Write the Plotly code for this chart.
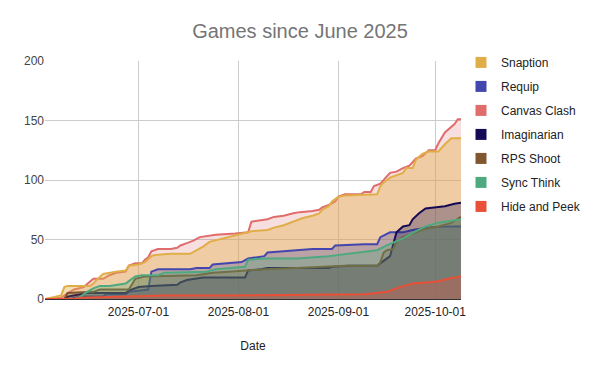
import plotly.graph_objects as go

series_names = ["Snaption", "Requip", "Canvas Clash", "Imaginarian", "RPS Shoot", "Sync Think", "Hide and Peek"]
series_colors = ["#e0ae48", "#4347ad", "#e06c6c", "#150a55", "#80562f", "#4fa97f", "#ea5038"]

snaption_dates = ["06-02","06-05","06-07","06-08","06-09","06-16","06-17","06-18","06-20","06-24","06-27","06-28","07-01","07-03","07-05","07-06","07-11","07-17","07-19","07-21","07-23","07-26","07-29","08-01","08-05","08-10","08-12","08-15","08-18","08-21","08-24","08-26","08-27","08-29","08-30","09-01","09-03","09-13","09-14","09-15","09-17","09-19","09-21","09-22","09-24","09-25","09-27","09-29","10-02","10-04","10-06","10-09"]
snaption_vals = [0,2,3,10,11,11,13,16,21,23,24,28,29,31,36,37,38,38,41,44,48,50,52,54,57,58,60,62,65,68,70,72,75,78,82,86,87,88,95,98,102,104,106,110,110,117,122,124,124,130,135,135]

requip_dates = ["06-02","06-10","06-13","06-20","06-21","06-27","06-28","07-01","07-04","07-05","07-06","07-07","07-09","07-17","07-19","07-23","07-24","07-29","08-02","08-04","08-09","08-10","08-15","08-19","08-24","08-30","08-31","09-09","09-13","09-14","09-17","09-21","09-24","09-29","10-04","10-09"]
requip_vals = [0,0,2,2,4,4,6,7,8,23,24,25,25,25,26,26,29,30,31,34,36,39,40,41,42,42,45,46,46,52,56,56,58,60,61,61]

canvas_dates = ["06-02","06-07","06-09","06-11","06-14","06-17","06-20","06-22","06-24","06-27","06-28","06-30","07-02","07-03","07-04","07-05","07-07","07-11","07-13","07-14","07-16","07-18","07-20","07-23","07-25","07-31","08-04","08-05","08-08","08-10","08-12","08-15","08-18","08-20","08-24","08-26","08-27","08-29","08-31","09-01","09-03","09-08","09-09","09-11","09-12","09-14","09-16","09-17","09-19","09-21","09-23","09-25","09-27","09-29","10-01","10-02","10-04","10-06","10-07","10-08","10-09"]
canvas_vals = [0,1,5,8,10,17,17,20,22,23,28,30,30,33,35,40,42,42,43,45,47,49,52,53,54,55,56,65,66,67,69,70,72,73,74,75,77,79,82,86,88,88,90,90,95,97,103,106,107,110,112,118,120,125,125,131,140,145,147,151,151]

imaginarian_dates = ["06-02","06-08","06-09","06-11","06-15","06-27","06-28","07-01","07-05","07-13","07-14","07-16","07-18","07-21","08-03","08-04","08-08","08-10","08-29","08-30","09-04","09-13","09-15","09-17","09-18","09-19","09-21","09-23","09-24","09-26","09-28","10-01","10-04","10-07","10-09"]
imaginarian_vals = [0,0,2,3,5,5,7,10,11,12,14,16,17,18,18,24,25,26,26,27,28,28,32,36,46,56,61,62,67,72,76,77,78,80,81]

rps_dates = ["06-02","06-08","06-09","06-17","06-19","06-28","06-30","07-03","07-19","07-24","07-29","08-03","08-09","08-19","08-29","09-03","09-13","09-14","09-15","09-16","09-18","09-19","09-21","09-24","09-28","10-02","10-06","10-09"]
rps_vals = [0,0,5,6,8,8,17,19,20,22,23,24,25,26,27,28,28,31,39,41,42,48,52,55,59,61,64,69]

sync_dates = ["06-02","06-11","06-13","06-15","06-17","06-19","06-22","06-24","06-27","06-28","06-30","07-02","07-07","07-09","07-19","07-22","07-25","07-29","08-03","08-04","08-09","08-19","08-24","08-29","09-04","09-09","09-13","09-16","09-21","09-25","09-28","10-02","10-09"]
sync_vals = [0,0,2,6,9,11,11,12,13,15,19,20,20,22,23,23,25,26,27,33,34,34,35,36,38,40,41,45,51,57,61,64,67]

hide_dates = ["06-02","06-11","06-13","06-28","07-09","07-29","08-29","09-09","09-13","09-16","09-20","09-24","09-29","10-02","10-05","10-09"]
hide_vals = [0,0,1,2,3,3,4,4,5,6,10,13,14,15,17,19]

x_tick_vals = ["2025-07-01", "2025-08-01", "2025-09-01", "2025-10-01"]
y_tick_vals = [0, 50, 100, 150, 200]

all_dates = [snaption_dates, requip_dates, canvas_dates, imaginarian_dates, rps_dates, sync_dates, hide_dates]
all_vals = [snaption_vals, requip_vals, canvas_vals, imaginarian_vals, rps_vals, sync_vals, hide_vals]
fill_alpha = [0.4, 0.3, 0.22, 0.3, 0.3, 0.3, 0.3]
draw_order = [2, 0, 1, 3, 4, 5, 6]


def rgba(hex_color, a):
    h = hex_color.lstrip("#")
    r, g, b = int(h[0:2], 16), int(h[2:4], 16), int(h[4:6], 16)
    return f"rgba({r},{g},{b},{a})"


FONT = "Liberation Sans, Arial, sans-serif"
fig = go.Figure()

for i in draw_order:
    name, color = series_names[i], series_colors[i]
    fig.add_trace(go.Scatter(
        x=["2025-" + d for d in all_dates[i]], y=all_vals[i], mode="lines", name=name,
        line=dict(color=color, width=2), fill="tozeroy",
        fillcolor=rgba(color, fill_alpha[i]), showlegend=False, hoverinfo="x+y+name",
    ))

for i, (name, color) in enumerate(zip(series_names, series_colors)):
    fig.add_trace(go.Scatter(
        x=[None], y=[None], mode="markers", name=name,
        marker=dict(symbol="square", size=11, color=color),
        legendgroup=f"g{i}", showlegend=True,
    ))

fig.update_layout(
    width=600, height=371,
    margin=dict(l=45, r=139, t=61, b=72),
    paper_bgcolor="white", plot_bgcolor="white",
    font=dict(family=FONT, size=12, color="#444444"),
    title=dict(text="Games since June 2025", x=0.5, xanchor="center",
               y=1 - 31 / 371, yanchor="middle",
               font=dict(family=FONT, size=20, color="#757575")),
    legend=dict(x=1.0, xanchor="left", y=1.055, yanchor="top",
                font=dict(family=FONT, size=12, color="#222222"),
                traceorder="grouped", tracegroupgap=5,
                bgcolor="rgba(0,0,0,0)"),
    showlegend=True,
)

fig.update_xaxes(
    type="date", range=["2025-06-02", "2025-10-09"],
    tickvals=x_tick_vals, tickformat="%Y-%m-%d",
    showgrid=True, gridcolor="#cccccc", gridwidth=1,
    showline=True, linecolor="#333333", linewidth=1,
    ticks="", ticklabelstandoff=2, tickfont=dict(size=12, color="#222222"),
    title=dict(text="Date", standoff=23, font=dict(size=12, color="#222222")),
)
fig.update_yaxes(
    range=[0, 200], tickvals=y_tick_vals,
    showgrid=True, gridcolor="#cccccc", gridwidth=1,
    zeroline=False, ticks="", tickfont=dict(size=12, color="#444444"),
)

fig.write_html(
    "out.html",
    config={"displayModeBar": False},
    post_script="document.body.style.margin='0px';document.body.style.overflow='hidden';",
)
